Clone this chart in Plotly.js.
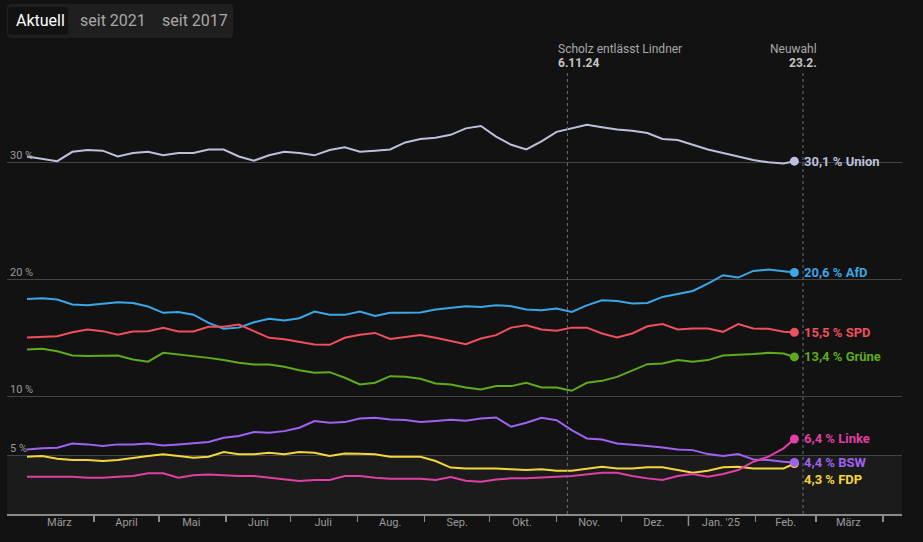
<!DOCTYPE html>
<html><head><meta charset="utf-8">
<script src="https://cdn.plot.ly/plotly-3.0.1.min.js"></script>
<style>html,body{margin:0;padding:0;background:#121212;} #chart{width:923px;height:542px;}</style>
</head><body><div id="chart"></div>
<script>
// ---------- DATA ----------
const startDate = '2024-03-01';   // first weekly value
const endDate = '2025-02-19';     // latest value (end dot)
const parties = ['Union', 'AfD', 'SPD', 'Grüne', 'FDP', 'BSW', 'Linke'];
const partyColors = ['#bcc0dc', '#3aa7e8', '#f04f5e', '#5fab1c', '#f5d53e', '#a062f2', '#e03fa6'];

const union = [30.5,30.3,30.1,30.9,31.05,31.0,30.5,30.8,30.9,30.6,30.8,30.8,31.1,31.1,30.5,30.15,30.6,30.9,30.8,30.6,31.05,31.28,30.9,31.0,31.1,31.7,32.0,32.1,32.35,32.9,33.1,32.2,31.5,31.1,31.8,32.6,32.9,33.2,33.0,32.8,32.7,32.5,32.0,31.9,31.5,31.1,30.8,30.5,30.2,30.0,29.9,30.1];
const afd = [18.35,18.4,18.3,17.87,17.8,17.95,18.07,18.0,17.7,17.16,17.24,17.0,16.3,15.8,15.9,16.36,16.65,16.5,16.7,17.27,17.0,16.99,17.27,16.9,17.16,17.16,17.2,17.44,17.6,17.73,17.67,17.8,17.73,17.44,17.39,17.53,17.24,17.8,18.24,18.18,17.95,18.0,18.52,18.8,19.03,19.66,20.37,20.17,20.74,20.85,20.74,20.6];
const spd = [15.06,15.1,15.17,15.5,15.74,15.6,15.3,15.57,15.6,15.88,15.57,15.57,15.97,15.97,16.16,15.6,15.03,14.9,14.66,14.46,14.43,15.03,15.3,15.45,14.94,15.1,15.28,15.03,14.75,14.49,14.97,15.26,15.9,16.1,15.74,15.63,15.9,15.9,15.4,15.06,15.4,16.02,16.2,15.74,15.83,15.83,15.54,16.2,15.83,15.8,15.54,15.5];
const gruene = [14.03,14.09,13.89,13.52,13.47,13.52,13.52,13.18,13.0,13.75,13.61,13.52,13.32,13.13,12.9,12.76,12.76,12.56,12.27,12.05,12.1,11.62,11.05,11.2,11.76,11.7,11.53,11.14,11.05,10.8,10.63,10.91,10.91,11.19,10.8,10.8,10.51,11.19,11.36,11.7,12.27,12.78,12.84,13.13,12.98,13.13,13.52,13.55,13.64,13.75,13.69,13.4];
const fdp = [4.89,4.94,4.72,4.6,4.6,4.52,4.6,4.8,4.94,5.09,4.94,4.8,4.89,5.28,5.09,5.09,5.23,5.09,5.28,5.23,4.94,5.17,5.14,5.09,4.89,4.89,4.89,4.52,3.96,3.89,3.89,3.89,3.81,3.75,3.81,3.69,3.69,3.89,4.03,3.89,3.89,3.98,3.98,3.75,3.52,3.69,3.98,4.03,3.89,3.89,3.89,4.3];
const bsw = [5.51,5.62,5.65,6.02,5.94,5.8,5.94,5.94,6.02,5.85,5.94,6.02,6.14,6.51,6.65,6.99,6.93,7.07,7.36,7.93,7.78,7.84,8.15,8.21,8.07,8.01,7.84,7.93,8.04,7.95,8.15,8.24,7.44,7.78,8.21,8.0,7.16,6.45,6.36,6.02,5.88,5.8,5.68,5.51,5.45,5.11,4.94,5.11,4.66,4.6,4.46,4.4];
const linke = [3.18,3.18,3.18,3.18,3.1,3.1,3.18,3.24,3.47,3.47,3.1,3.3,3.38,3.3,3.24,3.24,3.1,3.01,2.81,2.9,2.9,3.24,3.24,3.1,3.01,3.01,3.01,2.9,3.15,2.84,2.76,2.95,3.04,3.04,3.13,3.18,3.24,3.41,3.52,3.52,3.24,3.04,2.9,3.24,3.41,3.18,3.41,3.75,4.46,4.89,5.6,6.4];
const partyValues = [union, afd, spd, gruene, fdp, bsw, linke];

const monthTicks = ['2024-03-01','2024-04-01','2024-05-01','2024-06-01','2024-07-01','2024-08-01','2024-09-01','2024-10-01','2024-11-01','2024-12-01','2025-01-01','2025-02-01','2025-03-01','2025-04-01'];
const monthLabelDates = ['2024-03-16','2024-04-16','2024-05-16','2024-06-16','2024-07-16','2024-08-16','2024-09-16','2024-10-16','2024-11-16','2024-12-16','2025-01-16','2025-02-15','2025-03-16'];
const monthLabels = ['März','April','Mai','Juni','Juli','Aug.','Sep.','Okt.','Nov.','Dez.',"Jan. '25",'Feb.','März'];
const yTickVals = [5, 10, 20, 30];
const yTickText = ['5 %', '10 %', '20 %', '30 %'];
const events = [
  {date: '2024-11-06', title: 'Scholz entlässt Lindner', sub: '6.11.24', align: 'left'},
  {date: '2025-02-23', title: 'Neuwahl', sub: '23.2.', align: 'right'}
];
const buttons = ['Aktuell', 'seit 2021', 'seit 2017'];

// ---------- BUILD ----------
const nWeeks = union.length - 1;
const dates = [];
const d0 = new Date(startDate + 'T00:00:00Z').getTime();
for (let i = 0; i < nWeeks; i++) dates.push(new Date(d0 + i * 7 * 864e5).toISOString().slice(0, 10));
dates.push(endDate);

const xRange = ['2024-02-20 18:00', '2025-04-09 19:00'];
const M = {l: 7, r: 21, t: 70, b: 28};
const W = 923, H = 542;
const PW = W - M.l - M.r, PH = H - M.t - M.b;
const px = x => (x - M.l) / PW;
const py = y => (H - M.b - y) / PH;

const traces = [];
parties.forEach((p, k) => {
  traces.push({x: dates, y: partyValues[k], mode: 'lines', line: {color: partyColors[k], width: 2},
    hoverinfo: 'skip', showlegend: false});
});
parties.forEach((p, k) => {
  const v = partyValues[k];
  traces.push({x: [dates[dates.length - 1]], y: [v[v.length - 1]], mode: 'markers',
    marker: {color: partyColors[k], size: 9}, hoverinfo: 'skip', showlegend: false});
});
traces.push({x: monthLabelDates, y: monthLabelDates.map(() => null), xaxis: 'x2', mode: 'markers',
  hoverinfo: 'skip', showlegend: false});

function roundRect(x0, y0, x1, y1, r) {
  const rx = r / PW, ry = r / PH;
  const a = px(x0), b = px(x1), t = py(y0), u = py(y1);
  return `M ${a + rx},${t} L ${b - rx},${t} Q ${b},${t} ${b},${t - ry} L ${b},${u + ry} Q ${b},${u} ${b - rx},${u} L ${a + rx},${u} Q ${a},${u} ${a},${u + ry} L ${a},${t - ry} Q ${a},${t} ${a + rx},${t} Z`;
}

const shapes = [
  {type: 'rect', xref: 'paper', yref: 'y', x0: 0, x1: 1, y0: 0, y1: 5, fillcolor: '#1b1b1b', line: {width: 0}, layer: 'below'},
  {type: 'line', xref: 'x', yref: 'paper', x0: '2025-01-01', x1: '2025-01-01', y0: 0, y1: -12 / PH, line: {color: '#8a8a8a', width: 1.5}},
  {type: 'path', xref: 'paper', yref: 'paper', path: roundRect(7, 4, 233, 38, 4), fillcolor: '#1f1f1f', line: {width: 0}},
  {type: 'path', xref: 'paper', yref: 'paper', path: roundRect(8, 7, 68, 35, 3), fillcolor: '#121212', line: {width: 0}}
];
events.forEach(e => shapes.push({type: 'line', xref: 'x', yref: 'paper', x0: e.date, x1: e.date, y0: 0, y1: 1,
  line: {color: '#707070', width: 1, dash: 'dot'}}));

const annotations = [];
const fmt = v => v.toFixed(1).replace('.', ',');
parties.forEach((p, k) => {
  const v = partyValues[k];
  annotations.push({x: dates[dates.length - 1], y: v[v.length - 1], xref: 'x', yref: 'y', xanchor: 'left', yanchor: 'middle',
    xshift: 8, yshift: p === 'FDP' ? -16 : 0, showarrow: false,
    text: `<b>${fmt(v[v.length - 1])} % ${p}</b>`, font: {size: 13, color: partyColors[k]}});
});
events.forEach(e => {
  const xs = e.align === 'left' ? -11 : 16;
  annotations.push({x: e.date, y: py(49), xref: 'x', yref: 'paper', xanchor: e.align, yanchor: 'middle', xshift: xs,
    showarrow: false, text: e.title, font: {size: 12, color: '#a8a8a8'}});
  annotations.push({x: e.date, y: py(63), xref: 'x', yref: 'paper', xanchor: e.align, yanchor: 'middle', xshift: xs,
    showarrow: false, text: `<b>${e.sub}</b>`, font: {size: 12, color: '#c4c4c4'}});
});
const btnX = [14, 78, 160];
buttons.forEach((b, i) => annotations.push({x: px(btnX[i]), y: py(21), xref: 'paper', yref: 'paper', xanchor: 'left', yanchor: 'middle',
  showarrow: false, text: b, font: {size: 16, color: i === 0 ? '#ffffff' : '#a9a9a9'}}));

const layout = {
  width: W, height: H, margin: M,
  paper_bgcolor: '#121212', plot_bgcolor: '#121212',
  font: {family: 'Roboto, "Open Sans", sans-serif', color: '#9a9a9a'},
  showlegend: false,
  xaxis: {type: 'date', range: xRange, tickmode: 'array', tickvals: monthTicks, ticktext: monthTicks.map(() => ''),
    ticks: 'outside', ticklen: 6, tickwidth: 1.5, tickcolor: '#8a8a8a', showline: true, linecolor: '#8a8a8a', linewidth: 2,
    showgrid: false, zeroline: false, fixedrange: true},
  xaxis2: {type: 'date', range: xRange, overlaying: 'x', anchor: 'y', side: 'bottom', tickmode: 'array',
    tickvals: monthLabelDates, ticktext: monthLabels, ticks: '', showline: false, showgrid: false, zeroline: false,
    tickfont: {size: 11, color: '#9a9a9a'}, fixedrange: true},
  yaxis: {range: [0, 37.88], tickmode: 'array', tickvals: yTickVals, ticktext: yTickText, ticklabelposition: 'inside top',
    showgrid: true, gridcolor: '#444444', gridwidth: 1, zeroline: false, showline: false, ticks: '',
    tickfont: {size: 11, color: '#9a9a9a'}, fixedrange: true},
  shapes: shapes, annotations: annotations
};
Plotly.newPlot('chart', traces, layout, {displayModeBar: false, staticPlot: true});
</script></body></html>
